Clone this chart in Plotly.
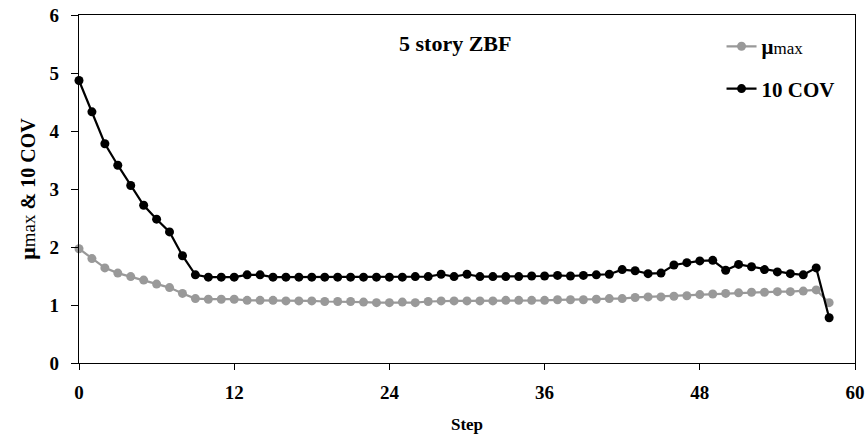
import plotly.graph_objects as go

# Step index along the analysis
steps = list(range(59))

# Maximum ductility demand per step
mu_max = [1.97, 1.80, 1.64, 1.55, 1.49, 1.43, 1.36, 1.30, 1.20, 1.11,
          1.10, 1.10, 1.10, 1.08, 1.08, 1.08, 1.07, 1.07, 1.07, 1.06,
          1.06, 1.06, 1.05, 1.04, 1.04, 1.05, 1.04, 1.06, 1.07, 1.07,
          1.07, 1.07, 1.07, 1.08, 1.08, 1.08, 1.08, 1.09, 1.09, 1.09,
          1.10, 1.11, 1.11, 1.13, 1.14, 1.14, 1.15, 1.16, 1.18, 1.19,
          1.20, 1.21, 1.22, 1.22, 1.23, 1.23, 1.24, 1.26, 1.04]

# Ten times the coefficient of variation per step
cov10 = [4.87, 4.33, 3.78, 3.41, 3.06, 2.72, 2.48, 2.26, 1.85, 1.52,
         1.48, 1.48, 1.48, 1.52, 1.52, 1.48, 1.48, 1.48, 1.48, 1.48,
         1.48, 1.48, 1.48, 1.48, 1.48, 1.48, 1.49, 1.49, 1.53, 1.49,
         1.53, 1.49, 1.49, 1.49, 1.49, 1.50, 1.50, 1.51, 1.50, 1.51,
         1.52, 1.53, 1.61, 1.59, 1.54, 1.55, 1.69, 1.73, 1.76, 1.77,
         1.60, 1.70, 1.66, 1.61, 1.57, 1.54, 1.52, 1.64, 0.78]

x_ticks = [0, 12, 24, 36, 48, 60]
y_ticks = [0, 1, 2, 3, 4, 5, 6]

FONT = "Liberation Serif"
LEGEND_MU = "<b>\u03bc</b><span style='font-size:17px'>max</span>"
AXIS_MU = "<b style='font-size:22px'>\u03bc</b><span style='font-size:19px'>max</span>"

fig = go.Figure()

fig.add_trace(go.Scatter(
    x=steps, y=mu_max, mode="lines+markers",
    name=LEGEND_MU, legendgroup="a",
    line=dict(color="#999999", width=2.2),
    marker=dict(color="#999999", size=9),
    cliponaxis=False,
))
fig.add_trace(go.Scatter(
    x=steps, y=cov10, mode="lines+markers",
    name="<b>10 COV</b>", legendgroup="b",
    line=dict(color="#000000", width=2.2),
    marker=dict(color="#000000", size=9),
    cliponaxis=False,
))

fig.add_annotation(
    text="<b>5 story ZBF</b>", x=0.484, y=0.917, xref="paper", yref="paper",
    xanchor="center", yanchor="middle",
    showarrow=False, font=dict(family=FONT, size=22, color="#000000"),
)

fig.update_layout(
    width=867, height=439,
    margin=dict(l=79, r=12, t=15, b=76, autoexpand=False),
    paper_bgcolor="white", plot_bgcolor="white",
    font=dict(family=FONT, color="#000000"),
    showlegend=True,
    legend=dict(
        x=0.828, y=0.968, xanchor="left", yanchor="top",
        bgcolor="rgba(0,0,0,0)", tracegroupgap=12,
        font=dict(family=FONT, size=21, color="#000000"),
    ),
    xaxis=dict(
        range=[0, 60], tickvals=x_ticks, ticktext=[f"<b>{v}</b>" for v in x_ticks],
        showgrid=False, zeroline=False, automargin=False,
        showline=True, linecolor="#000000", linewidth=1.3, mirror=True,
        ticks="outside", ticklen=6, tickcolor="#000000",
        tickfont=dict(family=FONT, size=19), ticklabelstandoff=6,
        title=dict(text="<b>Step</b>", font=dict(family=FONT, size=17), standoff=16),
    ),
    yaxis=dict(
        range=[0, 6], tickvals=y_ticks, ticktext=[f"<b>{v}</b>" for v in y_ticks],
        showgrid=False, zeroline=False, automargin=False,
        showline=True, linecolor="#000000", linewidth=1.3, mirror=True,
        ticks="outside", ticklen=7, tickcolor="#000000",
        tickfont=dict(family=FONT, size=19), ticklabelstandoff=8,
        title=dict(text=AXIS_MU + "<b> &amp; 10 COV</b>",
                   font=dict(family=FONT, size=20), standoff=8),
    ),
)

fig.write_html("out.html")
